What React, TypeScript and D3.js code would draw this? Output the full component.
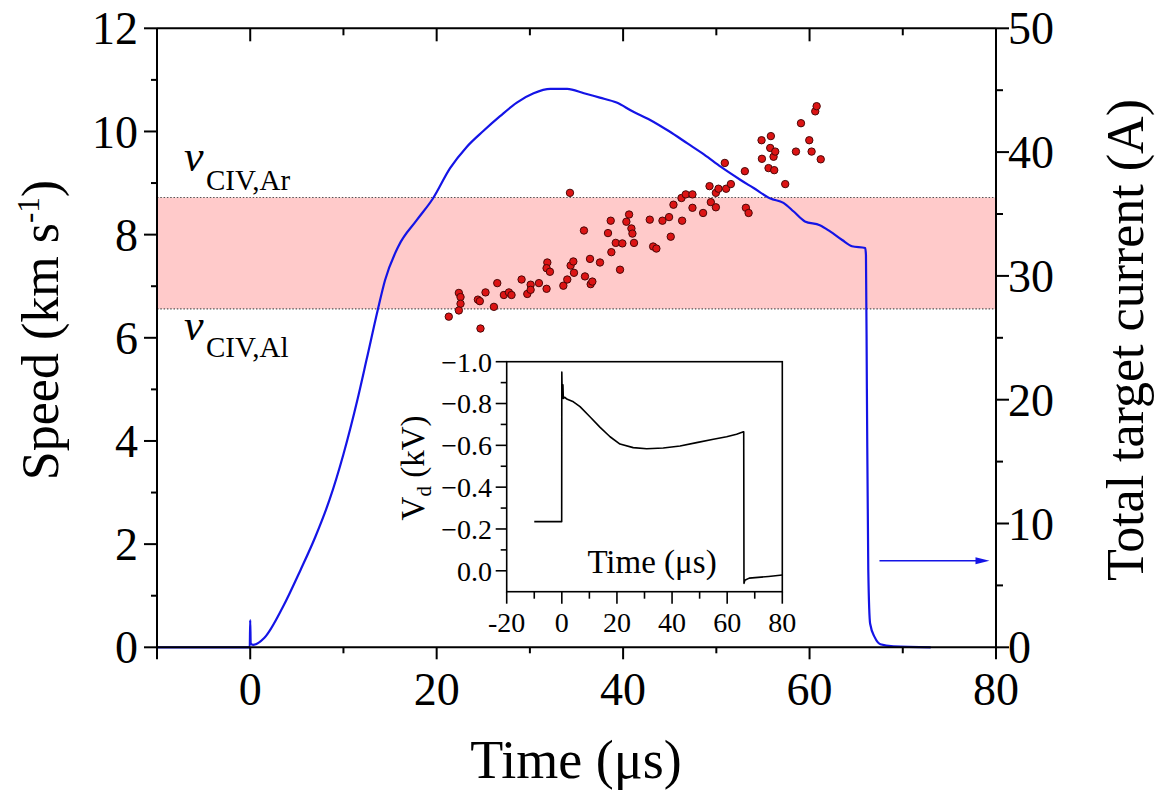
import React from "react";
import * as d3 from "d3";

// ---- Main curve: total target current (A) vs time (µs)
const currentTime = [-10, -0.05, 0, 0.05, 0.3, 1.5, 3.5, 5.4, 7, 8.5, 10, 11.5, 12.5, 13.68, 14.46, 15.9, 17.86, 19.6, 21.44, 23.2, 25, 26.8, 28.6, 30.4, 32.2, 34, 35.8, 37.5, 39.3, 41, 42.9, 44.9, 46.9, 48.7, 50.5, 52.6, 54, 55.8, 57.2, 58.3, 59.5, 61.1, 62.2, 63.5, 64.55, 65.97, 66.05, 66.15, 66.3, 66.5, 67, 67.6, 69, 73];
const currentAmp = [0, 0, 2.2, 0.3, 0.2, 0.75, 3.25, 6.25, 8.95, 11.9, 15.6, 20.0, 23.3, 27.25, 29.65, 32.4, 34.5, 36.25, 38.7, 40.4, 41.7, 42.9, 44.0, 44.75, 45.1, 45.1, 44.75, 44.4, 44.0, 43.3, 42.6, 41.7, 40.7, 39.8, 38.8, 37.75, 37.1, 36.25, 35.9, 35.2, 34.4, 34.1, 33.6, 32.9, 32.4, 32.25, 31.7, 20.8, 6.25, 1.9, 0.8, 0.25, 0.08, 0.0];

// ---- Scatter: speed (km/s) vs time (µs)
const scatterTime = [21.30, 22.38, 22.56, 22.56, 22.38, 24.70, 24.42, 24.63, 25.24, 26.14, 26.50, 27.21, 27.75, 28.03, 29.11, 29.72, 30.08, 30.08, 30.97, 31.79, 31.87, 31.79, 32.15, 33.59, 34.01, 34.37, 34.66, 34.73, 34.30, 35.80, 35.91, 36.45, 36.52, 36.70, 37.52, 38.38, 38.67, 38.74, 39.21, 39.67, 39.92, 40.35, 40.64, 40.89, 41.00, 41.17, 42.86, 43.22, 43.57, 44.22, 44.93, 45.11, 45.40, 46.33, 46.26, 46.72, 47.44, 47.44, 48.58, 49.27, 49.41, 49.95, 49.95, 50.23, 50.91, 51.05, 51.56, 53.06, 53.17, 53.46, 54.85, 54.89, 55.85, 55.78, 56.14, 56.32, 55.60, 56.21, 57.39, 58.54, 59.08, 59.97, 60.22, 60.61, 60.76, 61.20];
const scatterSpeed = [6.41, 6.87, 6.79, 6.66, 6.53, 6.18, 6.74, 6.71, 6.88, 6.60, 7.06, 6.83, 6.88, 6.83, 7.13, 6.85, 7.03, 6.93, 7.06, 6.95, 7.46, 7.35, 7.28, 7.01, 7.13, 7.40, 7.48, 7.26, 8.81, 8.08, 7.19, 7.53, 7.04, 7.09, 7.46, 8.03, 8.27, 7.66, 7.84, 7.32, 7.83, 8.25, 8.39, 8.12, 8.02, 7.84, 8.29, 7.77, 7.73, 8.27, 8.34, 7.96, 8.58, 8.27, 8.71, 8.78, 8.78, 8.52, 8.42, 8.94, 8.63, 8.53, 8.81, 8.89, 9.39, 8.89, 8.98, 9.23, 8.52, 8.42, 9.83, 9.47, 9.91, 9.68, 9.51, 9.61, 9.29, 9.25, 8.98, 9.61, 10.16, 9.83, 9.61, 10.39, 10.49, 9.46];

// ---- Band of CIV speeds (km/s): [Al, Ar]
const bandSpeed = [6.56, 8.72];
const bandLabels = ["CIV,Al", "CIV,Ar"];

// ---- Inset: discharge voltage (kV) vs time (µs)
const insetTime = [-10, -0.05, 0, 0.15, 0.4, 0.55, 1, 2, 4.2, 6.6, 10.2, 13.9, 17.5, 21.1, 25.9, 30.8, 36.8, 42.9, 48.9, 55, 59.8, 63.4, 65.9, 66.0, 66.1, 66.4, 68, 75, 80];
const insetVolt = [-0.235, -0.235, -0.95, -0.83, -0.89, -0.824, -0.83, -0.82, -0.808, -0.785, -0.737, -0.686, -0.641, -0.606, -0.589, -0.584, -0.587, -0.597, -0.613, -0.629, -0.641, -0.653, -0.665, -0.665, 0.06, 0.045, 0.035, 0.027, 0.02];

// ---- Ticks
const xTicks = [0, 20, 40, 60, 80];
const xMinor = [-10, 10, 30, 50, 70];
const speedTicks = [0, 2, 4, 6, 8, 10, 12];
const speedMinor = [1, 3, 5, 7, 9, 11];
const currentTicks = [0, 10, 20, 30, 40, 50];
const currentMinor = [5, 15, 25, 35, 45];
const insetXTicks = [-20, 0, 20, 40, 60, 80];
const insetXMinor = [-10, 10, 30, 50, 70];
const insetYTicks = [-1.0, -0.8, -0.6, -0.4, -0.2, 0.0];
const insetYMinor = [-0.9, -0.7, -0.5, -0.3, -0.1];

// arrow marking the current curve -> right axis (time µs, current A)
const arrowTime = [67.5, 79.3];
const arrowAmp = 7;

const FONT = "'Liberation Serif','Times New Roman',Times,serif";

export default function App() {
  const L = 157, R = 996, T = 28.3, B = 647.3;
  const x = d3.scaleLinear().domain([-10, 80]).range([L, R]);
  const yS = d3.scaleLinear().domain([0, 12]).range([B, T]);
  const yA = d3.scaleLinear().domain([0, 50]).range([B, T]);

  const iL = 506.7, iR = 782.3, iT = 361.7, iB = 591.7;
  const xi = d3.scaleLinear().domain([-20, 80]).range([iL, iR]);
  const yi = d3.scaleLinear().domain([0.1, -1.0]).range([iB, iT]);

  const curve = d3.line<number>()
    .x((_, i) => x(currentTime[i]))
    .y((_, i) => yA(currentAmp[i]))
    .curve(d3.curveMonotoneX);
  const insetLine = d3.line<number>().x((_, i) => xi(insetTime[i])).y((_, i) => yi(insetVolt[i]));

  const fmt1 = d3.format(".1f");
  const blue = "#1414e6";

  const ax = { stroke: "#000", strokeWidth: 2 };

  return (
    <svg width={1165} height={802} style={{ position: "absolute", left: 0, top: 0, background: "#fff" }} fontFamily={FONT}>
      <rect x={0} y={0} width={1165} height={802} fill="#fff" />
      {/* band */}
      <rect x={L} y={yS(bandSpeed[1])} width={R - L} height={yS(bandSpeed[0]) - yS(bandSpeed[1])} fill="#ffcaca" />
      {bandSpeed.map((v, i) => (
        <line key={"bl" + i} x1={L} x2={R} y1={yS(v)} y2={yS(v)} stroke="#555" strokeWidth={1.2} strokeDasharray="1.5 1.8" />
      ))}
      {/* band labels */}
      <text x={184} y={171} fontSize={44} fontStyle="italic">v</text>
      <text x={206} y={190} fontSize={29}>{bandLabels[1]}</text>
      <text x={184} y={340} fontSize={44} fontStyle="italic">v</text>
      <text x={206} y={357} fontSize={29}>{bandLabels[0]}</text>

      {/* current curve */}
      <path d={curve(currentTime) || ""} fill="none" stroke={blue} strokeWidth={2.2} strokeLinejoin="round" />

      {/* scatter */}
      {scatterTime.map((t, i) => (
        <circle key={"s" + i} cx={x(t)} cy={yS(scatterSpeed[i])} r={3.7} fill="#dc1414" stroke="#4a0808" strokeWidth={1} />
      ))}

      {/* arrow */}
      <line x1={x(arrowTime[0])} x2={x(arrowTime[1]) - 10} y1={yA(arrowAmp)} y2={yA(arrowAmp)} stroke={blue} strokeWidth={1.5} />
      <path d={`M${x(arrowTime[1])},${yA(arrowAmp)} L${x(arrowTime[1]) - 14},${yA(arrowAmp) - 3.5} L${x(arrowTime[1]) - 14},${yA(arrowAmp) + 3.5} Z`} fill={blue} />

      {/* frame */}
      <line x1={L} x2={R} y1={B} y2={B} {...ax} />
      <line x1={L} x2={R} y1={T} y2={T} {...ax} />
      <line x1={L} x2={L} y1={T} y2={B} {...ax} />
      <line x1={R} x2={R} y1={T} y2={B} {...ax} />

      {/* bottom ticks (outward) and top ticks (inward) */}
      {xTicks.map((t) => (
        <g key={"xt" + t}>
          <line x1={x(t)} x2={x(t)} y1={B} y2={B + 12} {...ax} />
          <line x1={x(t)} x2={x(t)} y1={T} y2={T + 13} {...ax} />
          <text x={x(t)} y={705} fontSize={46} textAnchor="middle">{t}</text>
        </g>
      ))}
      <line x1={L} x2={L} y1={B} y2={B + 12} {...ax} />
      {xMinor.map((t) => (
        <g key={"xm" + t}>
          <line x1={x(t)} x2={x(t)} y1={B} y2={B + 6} {...ax} />
          <line x1={x(t)} x2={x(t)} y1={T} y2={T + 7} {...ax} />
        </g>
      ))}

      {/* left ticks */}
      {speedTicks.map((v) => (
        <g key={"yl" + v}>
          <line x1={L - 13} x2={L} y1={yS(v)} y2={yS(v)} {...ax} />
          <text x={138} y={yS(v)} dy="0.35em" fontSize={46} textAnchor="end">{v}</text>
        </g>
      ))}
      {speedMinor.map((v) => (
        <line key={"ylm" + v} x1={L - 6} x2={L} y1={yS(v)} y2={yS(v)} {...ax} />
      ))}

      {/* right ticks */}
      {currentTicks.map((v) => (
        <g key={"yr" + v}>
          <line x1={R} x2={R + 13} y1={yA(v)} y2={yA(v)} {...ax} />
          <text x={1008} y={yA(v)} dy="0.35em" fontSize={46} textAnchor="start">{v}</text>
        </g>
      ))}
      {currentMinor.map((v) => (
        <line key={"yrm" + v} x1={R} x2={R + 7} y1={yA(v)} y2={yA(v)} {...ax} />
      ))}

      {/* axis titles */}
      <text transform="translate(58,330) rotate(-90)" fontSize={52} textAnchor="middle">
        Speed (km s<tspan dy={-19} fontSize={31}>-1</tspan><tspan dy={19}>)</tspan>
      </text>
      <text transform="translate(1143,340) rotate(-90)" fontSize={52} textAnchor="middle">Total target current (A)</text>
      <text x={576} y={778} fontSize={54} textAnchor="middle">Time (μs)</text>

      {/* inset */}
      <g>
        <path d={insetLine(insetTime) || ""} fill="none" stroke="#000" strokeWidth={1.6} strokeLinejoin="round" />
        <rect x={iL} y={iT} width={iR - iL} height={iB - iT} fill="none" stroke="#000" strokeWidth={1.6} />
        {insetXTicks.map((t) => (
          <g key={"ixt" + t}>
            <line x1={xi(t)} x2={xi(t)} y1={iB} y2={iB + 12} stroke="#000" strokeWidth={1.6} />
            <text x={xi(t)} y={632} fontSize={28} textAnchor="middle">{t}</text>
          </g>
        ))}
        {insetXMinor.map((t) => (
          <line key={"ixm" + t} x1={xi(t)} x2={xi(t)} y1={iB} y2={iB + 7} stroke="#000" strokeWidth={1.6} />
        ))}
        {insetYTicks.map((v) => (
          <g key={"iyt" + v}>
            <line x1={iL - 11} x2={iL} y1={yi(v)} y2={yi(v)} stroke="#000" strokeWidth={1.6} />
            <text x={492} y={yi(v)} dy="0.35em" fontSize={28} textAnchor="end">{fmt1(v)}</text>
          </g>
        ))}
        {insetYMinor.map((v) => (
          <line key={"iym" + v} x1={iL - 6} x2={iL} y1={yi(v)} y2={yi(v)} stroke="#000" strokeWidth={1.6} />
        ))}
        <text x={652} y={573} fontSize={33} textAnchor="middle">Time (μs)</text>
        <text transform="translate(424,468) rotate(-90)" fontSize={33} textAnchor="middle">
          V<tspan dy={7} fontSize={21}>d</tspan><tspan dy={-7}> (kV)</tspan>
        </text>
      </g>
    </svg>
  );
}
